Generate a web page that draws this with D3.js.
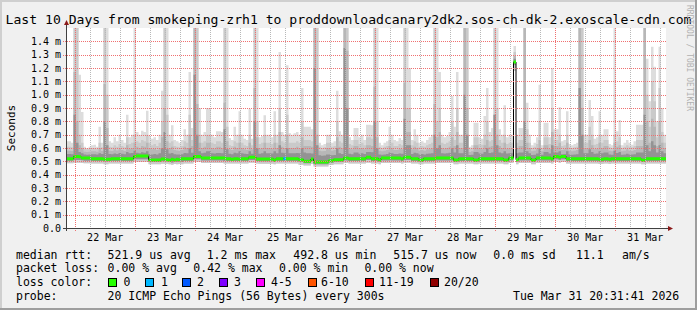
<!DOCTYPE html>
<html>
<head>
<meta charset="utf-8">
<script src="https://cdn.jsdelivr.net/npm/d3@7"></script>
<style>
  body { margin: 0; background: #fff; }
  svg text { font-family: "DejaVu Sans Mono", monospace; fill: #000; }
</style>
</head>
<body>
<svg id="chart" width="697" height="310"></svg>
<script>
// hourly bins, values in microseconds, one row per 24 bins
var medianUs = [
  520,520,520,535,537,535,525,525,525,525,520,520,520,520,520,515,515,515,520,520,520,520,520,520,
  520,520,520,537,540,540,540,540,540,510,510,510,510,510,518,518,512,508,515,510,515,512,520,520,
  520,520,520,537,537,537,525,525,525,525,525,525,525,525,525,525,520,520,515,520,520,515,520,520,
  520,530,530,530,518,518,518,518,518,518,518,510,520,520,520,520,520,520,520,520,520,512,512,500,
  500,500,518,495,495,495,495,495,495,505,505,512,512,512,512,525,525,520,520,520,520,520,520,520,
  530,530,520,520,520,510,525,525,525,525,525,525,525,525,520,530,530,530,520,520,520,510,510,520,
  520,520,520,520,525,525,525,525,525,525,525,510,510,520,520,520,520,520,520,510,510,520,520,520,
  520,520,520,520,520,520,520,510,510,525,525,1245,512,525,525,525,525,525,510,510,525,525,525,525,
  525,525,520,537,537,530,537,537,520,520,520,520,520,520,520,520,520,520,520,520,520,515,515,520,
  520,515,520,520,520,520,520,520,520,520,520,520,520,520,510,510,520,520,520,520,520,520,520,520
];
var maxUs = [
  650,650,640,1500,1500,1150,870,610,600,610,620,625,610,760,640,1500,1500,650,640,680,650,700,660,640,
  850,680,700,1500,720,700,730,720,880,690,670,680,660,700,1030,1500,1500,700,770,660,650,640,660,740,
  700,1170,750,1500,1500,900,700,720,900,900,700,680,725,725,720,1500,1500,675,660,760,700,875,700,670,
  660,895,670,1500,1500,680,690,845,700,700,680,875,700,1320,720,700,1220,710,700,710,720,700,1050,760,
  760,760,740,1500,1500,640,620,630,700,700,640,650,1030,725,700,1500,1500,680,660,750,750,680,700,660,
  775,775,770,1500,1500,640,620,640,650,760,700,660,650,675,660,1500,1500,1200,660,740,700,640,650,640,
  660,680,700,1500,1500,1170,700,680,690,720,990,760,1170,700,700,1500,1500,610,620,790,790,680,670,840,
  1050,720,750,1500,1500,740,700,920,680,700,700,1365,700,750,750,1500,940,700,620,640,680,1075,620,790,
  790,680,1200,740,740,905,650,660,875,630,620,630,640,1500,1500,700,700,960,840,670,680,875,700,740,
  740,630,620,1500,725,810,620,640,660,640,625,650,775,775,775,1500,1270,950,1360,1210,800,1360,900,700
];
var secondUs = [
  610,610,605,1500,1500,700,640,595,590,595,600,600,595,640,605,1500,1000,610,605,620,610,630,615,605,
  680,630,640,700,650,640,660,650,700,640,620,630,615,640,800,1500,850,640,650,615,610,605,615,650,
  640,850,660,1500,1500,700,640,650,700,700,640,630,650,650,640,1500,760,620,615,650,640,700,640,620,
  615,700,620,1500,800,630,640,700,640,640,630,700,640,900,650,640,850,640,640,640,650,640,800,660,
  660,660,650,1500,1500,610,600,605,640,640,610,615,800,650,640,1500,1500,630,620,660,660,630,640,620,
  680,680,670,1500,800,610,600,610,615,660,640,615,615,630,620,1500,900,900,620,650,640,610,615,610,
  620,630,640,1500,800,900,640,630,640,650,800,660,900,640,640,1500,1500,595,600,680,680,630,625,700,
  800,650,660,1500,900,660,640,700,630,640,640,1320,640,660,660,1500,740,640,600,610,630,800,600,680,
  680,630,900,660,660,700,615,620,700,605,600,605,610,1500,1500,640,640,760,700,625,630,700,640,660,
  660,605,600,700,650,680,600,610,620,610,605,615,660,660,660,1500,1000,760,1100,950,680,1050,720,640
];
var thirdUs = [
  580,580,578,1170,800,620,600,572,570,572,575,575,572,600,578,1080,750,580,578,590,582,595,585,578,
  620,595,600,640,610,600,615,610,640,600,590,595,585,600,680,900,650,600,610,585,582,578,585,610,
  600,700,615,1500,930,640,600,610,640,640,600,595,610,610,600,940,650,590,585,610,600,640,600,590,
  585,640,590,1050,680,595,600,640,600,600,595,640,600,720,610,600,700,600,600,600,610,600,680,615,
  615,615,610,1500,700,580,575,578,600,600,580,585,680,610,600,1500,1330,595,590,615,615,595,600,590,
  620,620,615,1060,680,580,575,580,585,615,600,585,585,595,590,1090,720,720,590,610,600,580,585,580,
  590,595,600,930,680,720,600,595,600,610,680,615,720,600,600,1500,900,570,575,620,620,595,590,620,
  660,610,615,850,700,615,600,640,595,600,600,1290,600,615,615,1500,640,600,575,580,595,660,575,620,
  620,595,720,615,615,640,585,590,640,580,575,580,585,1500,900,600,600,660,620,590,595,640,600,615,
  615,580,575,640,610,620,575,580,590,580,578,585,615,615,615,1500,800,640,820,760,615,800,640,600
];
var highUs = [
  555,555,553,850,640,570,560,552,550,552,553,553,552,560,555,800,620,555,553,558,555,562,556,553,
  570,560,563,580,565,560,568,565,575,555,552,555,552,560,600,720,590,558,562,553,552,552,553,562,
  560,600,565,1150,700,575,560,565,575,575,560,558,563,563,560,740,590,556,554,565,560,575,560,556,
  555,575,556,800,600,556,560,575,560,560,558,575,560,620,565,560,600,560,560,560,563,560,600,566,
  560,560,558,1200,620,545,542,543,552,552,545,548,600,560,555,1350,900,556,554,566,566,556,560,555,
  570,570,568,800,600,552,550,552,555,566,560,555,555,558,556,820,620,620,555,565,560,552,555,552,
  556,558,560,700,600,620,560,558,560,565,600,566,620,560,560,1000,700,548,550,570,570,558,556,570,
  600,563,566,850,620,566,560,575,558,560,560,1270,560,566,566,800,575,560,548,550,558,600,550,570,
  570,558,620,566,566,575,553,555,575,552,550,552,553,1050,700,560,560,590,570,556,558,575,560,566,
  566,552,550,580,563,570,550,552,556,552,551,553,566,566,566,850,620,575,650,620,566,620,575,560
];
var lowUs = [
  505,505,505,510,510,510,508,505,505,505,503,503,503,503,503,498,498,503,503,503,503,503,503,503,
  503,503,503,515,515,515,515,515,515,495,495,495,495,495,500,500,500,495,492,498,495,498,495,503,
  503,503,503,515,515,515,507,507,507,507,507,507,507,507,507,503,503,503,503,503,503,503,503,503,
  503,510,510,510,503,500,500,500,500,500,500,495,503,503,503,503,503,503,503,503,503,495,495,485,
  485,485,500,478,478,478,478,478,478,490,490,495,495,495,495,507,507,503,503,503,503,503,503,503,
  510,510,503,503,503,495,507,507,507,507,507,507,507,507,503,510,510,510,503,503,503,495,495,503,
  503,503,503,503,507,507,507,507,507,507,507,495,495,503,503,503,503,503,503,495,495,503,503,503,
  503,503,503,503,503,503,503,495,495,507,507,1225,495,507,507,507,507,507,495,495,507,507,507,507,
  507,507,503,515,515,510,515,515,503,503,503,503,503,503,503,503,503,503,503,503,503,498,498,503,
  503,498,503,503,503,503,503,503,503,503,503,503,503,503,495,495,503,503,503,503,503,503,503,503
];
var minUs = [
  485,485,485,490,490,490,488,485,485,485,483,483,483,483,483,478,478,483,483,483,483,483,483,483,
  483,483,483,495,495,495,495,495,495,478,478,478,478,478,482,482,482,478,475,480,478,480,478,483,
  483,483,483,495,495,495,487,487,487,487,487,487,487,487,487,483,483,483,483,483,483,483,483,483,
  483,490,490,490,483,482,482,482,482,482,482,478,483,483,483,483,483,483,483,483,483,475,475,468,
  468,468,480,462,462,462,462,462,462,472,472,478,478,478,478,487,487,483,483,483,483,483,483,483,
  490,490,483,483,483,478,487,487,487,487,487,487,487,487,483,490,490,490,483,483,483,478,478,483,
  483,483,483,483,487,487,487,487,487,487,487,478,478,483,483,483,483,483,483,478,478,483,483,483,
  483,483,483,483,483,483,483,478,478,487,487,1180,478,487,487,487,487,487,478,478,487,487,487,487,
  487,487,483,495,495,490,495,495,483,483,483,483,483,483,483,483,483,483,483,483,483,480,480,483,
  483,480,483,483,483,483,483,483,483,483,483,483,483,483,478,478,483,483,483,483,483,483,483,483
];
var lossHours = [87];
var lossCounts = [1];

var yTicksMs = [0.0, 0.1, 0.2, 0.3, 0.4, 0.5, 0.6, 0.7, 0.8, 0.9, 1.0, 1.1, 1.2, 1.3, 1.4];
var legendLabels = ["0", "1", "2", "3", "4-5", "6-10", "11-19", "20/20"];
var legendColors = ["#26ff00", "#00b8ff", "#0059ff", "#7e00ff", "#ff00ff", "#ff5500", "#ff0000", "#900000"];

var titleText = "Last 10 Days from smokeping-zrh1 to proddownloadcanary2dk2.sos-ch-dk-2.exoscale-cdn.com";
var startTime = new Date(2026, 2, 21, 20, 31, 41),
    endTime = new Date(2026, 2, 31, 20, 31, 41);

var plot = {left: 66, right: 666, top: 28, bottom: 228};

var svg = d3.select("#chart");

// background and 3d frame
svg.append("rect").attr("width", 697).attr("height", 310).attr("fill", "#f0f0f0");
svg.append("path").attr("d", "M0,0H697V2H2V310H0Z").attr("fill", "#cfcfcf");
svg.append("path").attr("d", "M697,0V310H0V308H695V0Z").attr("fill", "#9e9e9e");
svg.append("rect")
  .attr("x", plot.left).attr("y", plot.top)
  .attr("width", plot.right - plot.left).attr("height", plot.bottom - plot.top)
  .attr("fill", "#fff");

var x = d3.scaleTime().domain([startTime, endTime]).range([plot.left, plot.right]);
var y = d3.scaleLinear().domain([0, 1.5]).range([plot.bottom, plot.top]);

function lossIndex(n) {
  if (n <= 3) return n;
  if (n <= 5) return 4;
  if (n <= 10) return 5;
  if (n <= 19) return 6;
  return 7;
}

var bins = medianUs.map(function (m, i) {
  var k = lossHours.indexOf(i);
  return {
    t: d3.timeHour.offset(startTime, i),
    t2: d3.timeHour.offset(startTime, i + 1),
    median: m / 1000,
    max: maxUs[i] / 1000,
    second: secondUs[i] / 1000,
    third: thirdUs[i] / 1000,
    high: highUs[i] / 1000,
    low: lowUs[i] / 1000,
    min: minUs[i] / 1000,
    loss: k < 0 ? 0 : lossCounts[k]
  };
});
var pts = bins.concat([Object.assign({}, bins[bins.length - 1], {t: endTime})]);

svg.append("clipPath").attr("id", "plotclip")
  .append("rect")
  .attr("x", plot.left).attr("y", plot.top)
  .attr("width", plot.right - plot.left).attr("height", plot.bottom - plot.top);

var g = svg.append("g").attr("clip-path", "url(#plotclip)");

// smoke layers, outermost first
var layers = [
  {lo: "min", hi: "max", color: "#dddddd"},
  {lo: "min", hi: "second", color: "#cacaca"},
  {lo: "low", hi: "third", color: "#b7b7b7"},
  {lo: "low", hi: "high", color: "#939393"}
];
layers.forEach(function (l) {
  var area = d3.area()
    .curve(d3.curveStepAfter)
    .x(function (d) { return x(d.t); })
    .y0(function (d) { return y(d[l.lo]); })
    .y1(function (d) { return y(d[l.hi]); });
  g.append("path").datum(pts).attr("d", area).attr("fill", l.color);
});

// grid
var midnights = d3.timeDay.range(startTime, endTime);
var sixHours = d3.timeHour.every(6).range(startTime, endTime).filter(function (d) { return d.getHours() !== 0; });
var noons = d3.timeHour.range(startTime, endTime).filter(function (d) { return d.getHours() === 12; });

var grid = svg.append("g").attr("shape-rendering", "crispEdges");
grid.selectAll(".minor").data(sixHours).enter().append("line")
  .attr("x1", function (d) { return Math.round(x(d)) + 0.5; })
  .attr("x2", function (d) { return Math.round(x(d)) + 0.5; })
  .attr("y1", plot.top).attr("y2", plot.bottom + 2)
  .attr("stroke", "#b8b8b8").attr("stroke-dasharray", "1,1");
grid.selectAll(".major").data(midnights).enter().append("line")
  .attr("x1", function (d) { return Math.round(x(d)) + 0.5; })
  .attr("x2", function (d) { return Math.round(x(d)) + 0.5; })
  .attr("y1", plot.top).attr("y2", plot.bottom + 3)
  .attr("stroke", "#f07070").attr("stroke-dasharray", "1,1");
grid.selectAll(".hgrid").data(yTicksMs.slice(1)).enter().append("line")
  .attr("x1", plot.left - 3).attr("x2", plot.right)
  .attr("y1", function (d) { return Math.round(y(d)) + 0.5; })
  .attr("y2", function (d) { return Math.round(y(d)) + 0.5; })
  .attr("stroke", "#f07070").attr("stroke-dasharray", "1,1");

// median: thin dark step line plus loss coloured bars
g.append("path").datum(pts)
  .attr("d", d3.line().curve(d3.curveStepAfter)
    .x(function (d) { return x(d.t); })
    .y(function (d) { return y(d.median); }))
  .attr("fill", "none").attr("stroke", "#000").attr("stroke-width", 1);

legendColors.forEach(function (c, li) {
  var segs = bins.filter(function (d) { return lossIndex(d.loss) === li; });
  if (!segs.length) return;
  var p = segs.map(function (d) {
    return "M" + x(d.t) + "," + y(d.median) + "H" + x(d.t2);
  }).join("");
  g.append("path").attr("d", p).attr("fill", "none").attr("stroke", c).attr("stroke-width", 3);
});

// axes
var yAxis = svg.append("g")
  .attr("transform", "translate(" + plot.left + ",0)")
  .call(d3.axisLeft(y)
    .tickValues(yTicksMs)
    .tickSize(0)
    .tickPadding(5)
    .tickFormat(function (d) { return d === 0 ? "0.0" : d.toFixed(1) + " m"; }));
yAxis.select(".domain").remove();
yAxis.selectAll("text").style("font-size", "10px").style("font-family", "'DejaVu Sans Mono', monospace");

var xAxis = svg.append("g")
  .attr("transform", "translate(0," + plot.bottom + ")")
  .call(d3.axisBottom(x)
    .tickValues(noons)
    .tickSize(0)
    .tickPadding(6)
    .tickFormat(d3.timeFormat("%d %b")));
xAxis.select(".domain").remove();
xAxis.selectAll("text").style("font-size", "10px").style("font-family", "'DejaVu Sans Mono', monospace");

svg.append("line")
  .attr("x1", plot.left + 0.5).attr("x2", plot.left + 0.5)
  .attr("y1", plot.bottom + 3).attr("y2", plot.top - 4)
  .attr("stroke", "#404040").attr("shape-rendering", "crispEdges");
svg.append("line")
  .attr("x1", plot.left - 3).attr("x2", plot.right + 3)
  .attr("y1", plot.bottom + 0.5).attr("y2", plot.bottom + 0.5)
  .attr("stroke", "#404040").attr("shape-rendering", "crispEdges");
svg.append("path")
  .attr("d", "M" + (plot.left - 2) + "," + (plot.top - 3) + "L" + (plot.left + 0.5) + "," + (plot.top - 8) +
    "L" + (plot.left + 3) + "," + (plot.top - 3) + "Z")
  .attr("fill", "#8b1a1a");
svg.append("path")
  .attr("d", "M" + (plot.right + 2) + "," + (plot.bottom - 2) + "L" + (plot.right + 7) + "," + (plot.bottom + 0.5) +
    "L" + (plot.right + 2) + "," + (plot.bottom + 3) + "Z")
  .attr("fill", "#8b1a1a");

// titles
svg.append("text")
  .attr("x", 348.5).attr("y", 23.5)
  .attr("text-anchor", "middle")
  .style("font-size", "13.1px")
  .text(titleText);

svg.append("text")
  .attr("transform", "translate(14.5,128) rotate(-90)")
  .attr("text-anchor", "middle")
  .style("font-size", "11px")
  .text("Seconds");

svg.append("text")
  .attr("transform", "translate(686.5,5) rotate(90)")
  .style("font-size", "8px")
  .style("fill", "#b0b0b0")
  .text("RRDTOOL / TOBI OETIKER");

// legend
var legendRows = [
  {y: 258.5, items: [[16, "median rtt:"], [107.6, "521.9 us avg"], [206.7, "1.2 ms max"], [293.3, "492.8 us min"],
    [393.3, "515.7 us now"], [493.3, "0.0 ms sd"], [576, "11.1"], [622, "am/s"]]},
  {y: 272.2, items: [[16, "packet loss:"], [107.6, "0.00 % avg"], [193.3, "0.42 % max"], [279, "0.00 % min"],
    [364.4, "0.00 % now"]]},
  {y: 286, items: [[16, "loss color:"]]},
  {y: 299.7, items: [[16, "probe:"], [107.6, "20 ICMP Echo Pings (56 Bytes) every 300s"], [513, "Tue Mar 31 20:31:41 2026"]]}
];
legendRows.forEach(function (row) {
  row.items.forEach(function (it) {
    svg.append("text")
      .attr("x", it[0]).attr("y", row.y)
      .attr("xml:space", "preserve")
      .style("font-size", "11.5px")
      .text(it[1]);
  });
});

var boxX = [108, 145.3, 182, 219, 256.4, 307.6, 365, 430];
var labelX = [123.6, 161, 197, 234, 271, 321, 379, 444];
legendLabels.forEach(function (lab, i) {
  svg.append("rect")
    .attr("x", Math.round(boxX[i]) + 0.5).attr("y", 278.5)
    .attr("width", 8).attr("height", 8)
    .attr("fill", legendColors[i]).attr("stroke", "#000")
    .attr("shape-rendering", "crispEdges");
  svg.append("text")
    .attr("x", labelX[i]).attr("y", 286)
    .style("font-size", "11.5px")
    .text(lab);
});
</script>
</body>
</html>
